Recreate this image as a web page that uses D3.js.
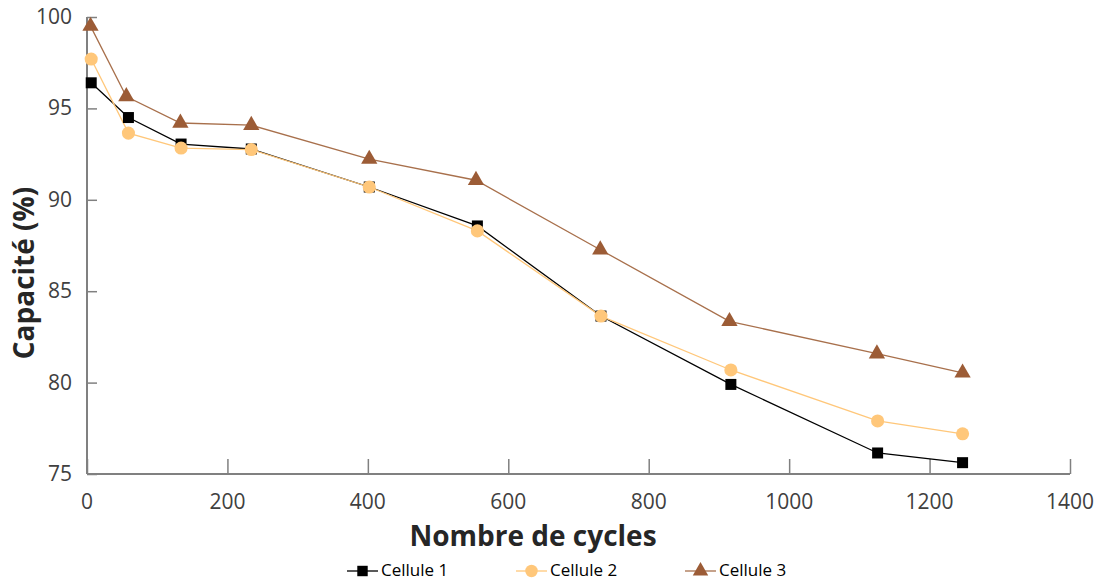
<!DOCTYPE html>
<html><head><meta charset="utf-8">
<script src="https://cdn.jsdelivr.net/npm/d3@7"></script>
<style>body{margin:0;background:#fff;} svg{display:block;font-family:"Open Sans",sans-serif;}</style>
</head><body>
<svg id="c" width="1101" height="580"></svg>
<script>
const cycles1 = [6, 59, 134, 234, 402, 556, 732, 917, 1126, 1247];
const cell1 = [96.4, 94.5, 93.05, 92.78, 90.7, 88.57, 83.64, 79.9, 76.15, 75.62];
const cycles2 = [6, 59, 134, 234, 402, 556, 732, 917, 1126, 1247];
const cell2 = [97.7, 93.65, 92.83, 92.75, 90.7, 88.3, 83.64, 80.69, 77.9, 77.2];
const cycles3 = [5, 56, 133, 234, 402, 554, 731, 915, 1125, 1247];
const cell3 = [99.5, 95.65, 94.2, 94.08, 92.23, 91.07, 87.27, 83.35, 81.58, 80.53];
const xTicks = [0, 200, 400, 600, 800, 1000, 1200, 1400];
const yTicks = [75, 80, 85, 90, 95, 100];
const seriesNames = ["Cellule 1", "Cellule 2", "Cellule 3"];

const svg = d3.select("#c");
const x = d3.scaleLinear().domain([0, 1400]).range([87, 1070]);
const y = d3.scaleLinear().domain([75, 100]).range([474, 17]);
const axisCol = "#808080", txtCol = "#404040";

// axes
const gx = svg.append("g").attr("transform", `translate(0,${y(75)})`)
  .call(d3.axisTop(x).tickValues(xTicks).tickSize(15).tickFormat(""));
gx.selectAll("path,line").attr("stroke", axisCol).attr("stroke-width", 1.5);
gx.select(".domain").attr("d", `M${x(0)},0H${x(1400)}`).attr("stroke-width", 2);
const gy = svg.append("g").attr("transform", `translate(${x(0)},0)`)
  .call(d3.axisRight(y).tickValues(yTicks).tickSize(10).tickFormat(""));
gy.selectAll("path,line").attr("stroke", axisCol).attr("stroke-width", 1.5);
gy.select(".domain").attr("d", `M0,${y(75)}V${y(100)}`).attr("stroke-width", 2);

svg.append("g").selectAll("text").data(xTicks).join("text")
  .attr("x", d => x(d)).attr("y", 509).attr("text-anchor", "middle")
  .attr("font-size", 21).attr("fill", txtCol).text(d => d);
svg.append("g").selectAll("text").data(yTicks).join("text")
  .attr("x", 72).attr("y", d => y(d) + 7).attr("text-anchor", "end")
  .attr("font-size", 21).attr("fill", txtCol).text(d => d);

svg.append("text").attr("x", 533).attr("y", 546).attr("text-anchor", "middle")
  .attr("font-size", 28).attr("font-weight", "bold").attr("fill", "#262626").text("Nombre de cycles");
svg.append("text").attr("transform", "translate(34,273) rotate(-90)").attr("text-anchor", "middle")
  .attr("font-size", 28).attr("font-weight", "bold").attr("fill", "#262626").text("Capacité (%)");

const series = [
  {xs: cycles1, ys: cell1, line: "#000000", fill: "#000000", sym: d3.symbolSquare, size: 121},
  {xs: cycles2, ys: cell2, line: "#FFC77A", fill: "#FFC77A", sym: d3.symbolCircle, size: 135},
  {xs: cycles3, ys: cell3, line: "#A8704C", fill: "#9C5C36", sym: d3.symbolTriangle, size: 115}
];
const lineGen = d3.line().x(d => x(d[0])).y(d => y(d[1]));
series.forEach(s => {
  const pts = s.xs.map((v, i) => [v, s.ys[i]]);
  svg.append("path").datum(pts).attr("d", lineGen).attr("fill", "none")
    .attr("stroke", s.line).attr("stroke-width", 1.3);
});
series.forEach(s => {
  const pts = s.xs.map((v, i) => [v, s.ys[i]]);
  svg.append("g").selectAll("path").data(pts).join("path")
    .attr("d", d3.symbol().type(s.sym).size(s.size))
    .attr("transform", d => `translate(${x(d[0])},${y(d[1])})`)
    .attr("fill", s.fill);
});

// legend
const legX = [347, 516, 685];
series.forEach((s, i) => {
  const g = svg.append("g").attr("transform", `translate(${legX[i]},571)`);
  g.append("line").attr("x1", 0).attr("x2", 31).attr("stroke", s.line).attr("stroke-width", 1.3);
  g.append("path").attr("d", d3.symbol().type(s.sym).size(s.size * 0.9)).attr("transform", "translate(15.5,0)").attr("fill", s.fill);
  g.append("text").attr("x", 34).attr("y", 5).attr("font-size", 17).attr("fill", "#000").text(seriesNames[i]);
});
</script>
</body></html>
